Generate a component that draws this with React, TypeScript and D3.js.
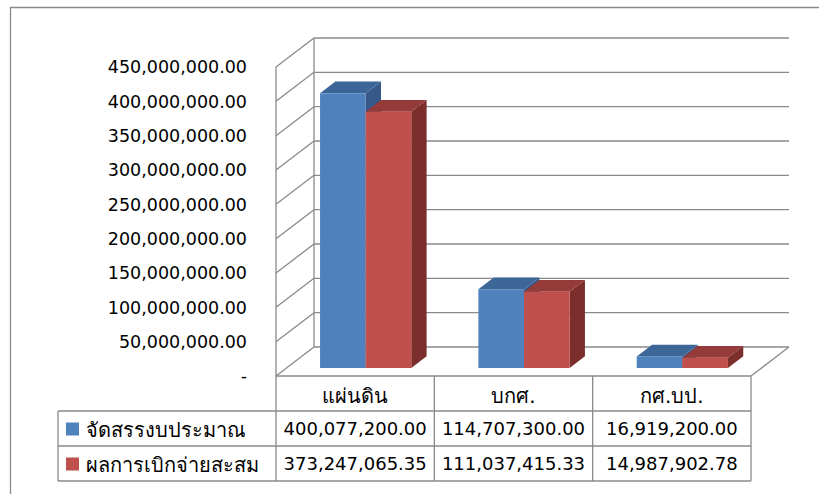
import React from 'react';
import * as d3 from 'd3';

const categories = ['แผ่นดิน', 'บกศ.', 'กศ.บป.'];
const seriesNames = ['จัดสรรงบประมาณ', 'ผลการเบิกจ่ายสะสม'];
const budget = [400077200.0, 114707300.0, 16919200.0];
const disbursed = [373247065.35, 111037415.33, 14987902.78];
const yTicks = [0, 50e6, 100e6, 150e6, 200e6, 250e6, 300e6, 350e6, 400e6, 450e6];
const frontColors = ['#4F81BD', '#C0504D'];
const topColors = ['#3D6698', '#953B39'];
const sideColors = ['#36598A', '#7B2E2C'];

const FONT = "Tahoma, 'DejaVu Sans', sans-serif";

export default function App() {
  const series = [budget, disbursed];
  const x0 = 276, x1 = 751;
  const yTop = 67, yBot = 376;
  const DX = 38, DY = -29;
  const tb0 = 0.276, tb1 = 0.68;
  const fx = tb0 * DX, fy = tb0 * DY;
  const ddx = (tb1 - tb0) * DX, ddy = (tb1 - tb0) * DY;

  const y = d3.scaleLinear().domain([0, 450e6]).range([yBot, yTop]);
  const p = 0.424;
  const xBand = d3.scaleBand<string>().domain(categories).range([x0, x1]).paddingInner(p).paddingOuter(p / 2);
  const xSub = d3.scaleBand<number>().domain([0, 1]).range([0, xBand.bandwidth()]);
  const cell = d3.scaleBand<string>().domain(categories).range([x0, x1]);

  const grid = '#8a8a8a';
  const fmt = d3.format(',.2f');
  const rows = [376, 411, 446, 481];

  return (
    <div style={{ position: 'fixed', left: 0, top: 0 }}>
      <svg width={819} height={494} style={{ display: 'block', background: '#fff' }}>
        {/* outer border */}
        <path d="M10.5,494 V7.5 H819" fill="none" stroke="#8a8a8a" strokeWidth={1.3} />

        {/* back wall gridlines and left wall diagonals */}
        {yTicks.map((t) => (
          <g key={t}>
            <line x1={x0 + DX} x2={x1 + DX} y1={y(t) + DY} y2={y(t) + DY} stroke={grid} strokeWidth={1.3} />
            <line x1={x0} x2={x0 + DX} y1={y(t)} y2={y(t) + DY} stroke={grid} strokeWidth={1.3} />
          </g>
        ))}
        <line x1={x0} x2={x0} y1={yTop} y2={yBot} stroke={grid} strokeWidth={1.3} />
        <line x1={x0 + DX} x2={x0 + DX} y1={yTop + DY} y2={yBot + DY} stroke={grid} strokeWidth={1.3} />
        <line x1={x1} x2={x1 + DX} y1={yBot} y2={yBot + DY} stroke={grid} strokeWidth={1.3} />

        {/* y-axis labels */}
        {yTicks.map((t) => (
          <text key={'l' + t} x={247} y={y(t)} dy="0.36em" textAnchor="end" fontFamily={FONT} fontSize={17.5} fill="#000">
            {t === 0 ? '-' : fmt(t)}
          </text>
        ))}

        {/* bars */}
        {categories.map((c, i) => (
          <g key={c}>
            {series.map((s, j) => {
              const v = s[i];
              const bx = (xBand(c) as number) + (xSub(j) as number) + fx;
              const w = xSub.bandwidth();
              const yv = y(v) + fy;
              const y0 = y(0) + fy;
              return (
                <g key={j}>
                  <polygon
                    points={`${bx + w},${yv} ${bx + w + ddx},${yv + ddy} ${bx + w + ddx},${y0 + ddy} ${bx + w},${y0}`}
                    fill={sideColors[j]}
                  />
                  <polygon
                    points={`${bx},${yv} ${bx + w},${yv} ${bx + w + ddx},${yv + ddy} ${bx + ddx},${yv + ddy}`}
                    fill={topColors[j]}
                  />
                  <rect x={bx} y={yv} width={w} height={y0 - yv} fill={frontColors[j]} />
                </g>
              );
            })}
          </g>
        ))}

        {/* data table */}
        <line x1={x0} x2={x1} y1={rows[0]} y2={rows[0]} stroke={grid} strokeWidth={1.3} />
        <line x1={58} x2={x1} y1={rows[1]} y2={rows[1]} stroke={grid} strokeWidth={1.3} />
        <line x1={58} x2={x1} y1={rows[2]} y2={rows[2]} stroke={grid} strokeWidth={1.3} />
        <line x1={58} x2={x1} y1={rows[3]} y2={rows[3]} stroke={grid} strokeWidth={1.3} />
        <line x1={58} x2={58} y1={rows[1]} y2={rows[3]} stroke={grid} strokeWidth={1.3} />
        {[...categories.map((c) => cell(c) as number), x1].map((xx, k) => (
          <line key={'v' + k} x1={xx} x2={xx} y1={rows[0]} y2={rows[3]} stroke={grid} strokeWidth={1.3} />
        ))}
        {categories.map((c) => (
          <text key={'h' + c} x={(cell(c) as number) + cell.bandwidth() / 2} y={(rows[0] + rows[1]) / 2 + 2} dy="0.36em"
            textAnchor="middle" fontFamily={FONT} fontSize={20} fill="#000">{c}</text>
        ))}
        {seriesNames.map((n, j) => (
          <g key={n}>
            <rect x={66} y={(rows[j + 1] + rows[j + 2]) / 2 - 6} width={13} height={13} fill={frontColors[j]} />
            <text x={86} y={(rows[j + 1] + rows[j + 2]) / 2 + 1} dy="0.36em" fontFamily={FONT} fontSize={20} fill="#000">{n}</text>
            {categories.map((c, i) => (
              <text key={c} x={(cell(c) as number) + cell.bandwidth() / 2} y={(rows[j + 1] + rows[j + 2]) / 2} dy="0.36em"
                textAnchor="middle" fontFamily={FONT} fontSize={18} fill="#000">{fmt(series[j][i])}</text>
            ))}
          </g>
        ))}
      </svg>
    </div>
  );
}
